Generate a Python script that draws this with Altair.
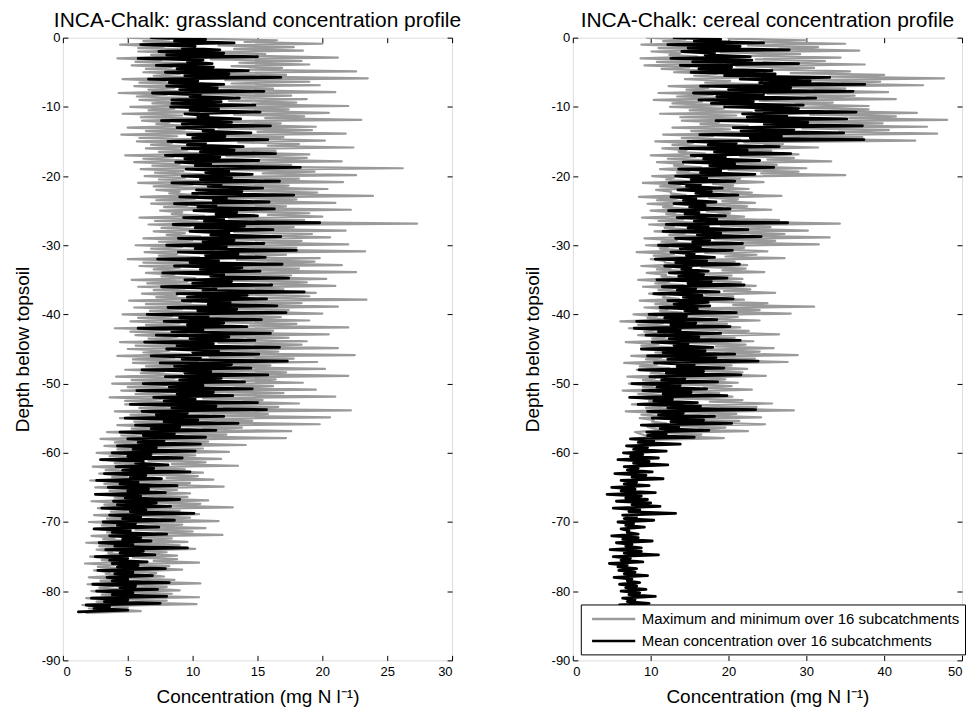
import altair as alt
import pandas as pd

STEP = 0.25  # depth sampling of the profiles
GRAY = "#9a9a9a"
FONT = "Liberation Sans"
LAB_MM = "Maximum and minimum over 16 subcatchments"
LAB_MEAN = "Mean concentration over 16 subcatchments"

# ---------------- grassland ----------------
grass_mean = [
    6.8, 13.2, 6.0, 12.1, 7.4, 15.0, 5.8, 11.5, 7.2, 14.3, 7.9, 16.8, 6.6, 12.4, 8.0, 15.5, 6.9, 13.6, 8.4, 14.8,
    8.3, 15.2, 9.4, 13.7, 7.6, 16.0, 8.8, 14.5, 9.6, 15.8, 8.1, 13.9, 9.2, 16.4, 7.9, 15.1, 8.7, 18.3, 9.5, 14.6,
    9.2, 16.7, 8.4, 15.4, 10.3, 17.8, 9.0, 15.9, 8.6, 16.3, 10.1, 15.0, 9.3, 19.8, 8.5, 16.2, 9.8, 16.8, 8.9, 15.5,
    8.0, 18.0, 8.9, 15.6, 7.3, 16.9, 8.6, 15.2, 7.7, 17.4, 9.4, 16.1, 7.6, 18.6, 8.8, 15.7, 9.2, 16.5, 8.1, 17.2,
    6.5, 15.3, 7.8, 14.2, 5.8, 16.0, 7.2, 14.8, 6.3, 16.7, 8.0, 15.1, 6.8, 17.3, 7.5, 14.5, 6.1, 15.8, 7.9, 14.0,
    6.2, 14.6, 5.7, 13.1, 7.0, 15.0, 5.2, 15.7, 6.1, 12.4, 4.8, 13.5, 5.6, 11.8, 4.4, 11.0, 5.0, 10.6, 4.2, 10.2,
    3.8, 9.2, 2.9, 8.1, 4.1, 9.8, 3.2, 7.6, 2.6, 8.8, 3.5, 7.9, 2.5, 9.0, 3.9, 8.3, 3.0, 10.1, 3.6, 8.6,
    3.1, 7.4, 2.4, 8.0, 3.6, 6.8, 2.8, 9.6, 3.3, 7.1, 2.5, 6.5, 3.8, 7.9, 2.7, 6.9, 3.4, 8.2, 2.3, 7.3,
    2.6, 8.0, 2.2, 7.5, 1.8, 5.0, 1.2,
]
grass_mean_ihi = [
    11.0, 10.2, 12.4, 10.8, 11.6, 12.8, 10.4, 11.9, 10.6, 12.2,
    12.0, 11.2, 13.0, 11.6, 12.5, 11.0, 13.2, 12.1, 11.4, 12.8,
    13.0, 12.2, 13.8, 12.6, 11.8, 13.4, 12.4, 14.0, 12.8, 13.2,
    12.6, 13.5, 12.0, 13.8, 12.4, 13.0, 11.8, 14.2, 12.9, 13.4,
    11.2, 12.4, 10.8, 12.8, 11.6, 12.0, 10.6, 13.0, 11.4, 12.2,
    10.8, 11.6, 10.2, 11.8, 9.6, 10.4, 9.0, 8.6, 7.8, 7.2,
    6.8, 6.2, 7.0, 6.4, 5.8, 6.6, 6.0, 7.2, 6.4, 6.0,
    5.6, 5.2, 6.0, 5.4, 6.2, 5.0, 5.8, 5.4, 5.0, 5.6,
    5.4, 5.0, 3.6,
]
grass_mean_ilo = [
    8.6, 9.2, 8.0, 9.6, 8.8, 9.4, 8.2, 9.0, 9.8, 8.4,
    9.8, 10.4, 9.2, 10.8, 10.0, 9.6, 10.6, 9.4, 10.2, 11.0,
    10.6, 11.2, 10.0, 11.6, 10.4, 11.8, 10.9, 10.2, 11.4, 10.8,
    10.2, 11.0, 9.8, 10.6, 11.4, 10.0, 10.8, 9.6, 11.2, 10.4,
    9.0, 9.6, 8.4, 9.8, 8.8, 10.0, 9.2, 8.6, 9.4, 9.0,
    8.2, 8.8, 7.8, 8.4, 7.2, 7.8, 6.8, 6.2, 5.8, 5.4,
    5.0, 5.6, 4.6, 5.2, 4.4, 5.0, 4.8, 4.2, 5.2, 4.6,
    4.2, 3.8, 4.6, 4.0, 4.4, 3.6, 4.2, 4.0, 3.8, 4.4,
    3.8, 3.2, 2.4,
]
grass_max_lo = [
    10.5, 12.0, 9.8, 11.4, 13.0, 10.2, 12.5, 11.0, 9.5, 12.8,
    11.5, 13.2, 10.4, 12.0, 11.8, 13.5, 10.9, 12.6, 11.2, 13.0,
    12.4, 11.0, 13.6, 12.2, 11.5, 13.0, 12.8, 11.4, 13.2, 12.0,
    11.8, 12.5, 13.4, 11.0, 12.2, 13.1, 11.6, 12.9, 11.3, 12.4,
    10.2, 11.5, 9.6, 11.0, 12.0, 10.4, 11.3, 9.9, 10.8, 11.6,
    10.0, 9.4, 10.8, 9.0, 8.6, 9.6, 8.2, 7.5, 7.0, 6.4,
    5.8, 6.6, 5.2, 6.0, 5.6, 6.4, 5.0, 6.2, 5.4, 5.8,
    5.0, 5.6, 4.6, 5.2, 4.8, 5.4, 4.4, 5.0, 4.6, 5.2,
    4.2, 3.8, 3.0, 1.8,
]
grass_max_ihi = [
    16.5, 17.8, 15.6, 18.4, 16.9, 17.2, 19.0, 16.2, 17.6, 18.0,
    17.4, 18.6, 16.8, 19.2, 17.0, 18.2, 16.4, 18.8, 17.6, 19.4,
    18.2, 17.4, 19.6, 18.0, 17.2, 19.0, 18.6, 17.8, 19.2, 18.4,
    18.0, 17.2, 19.4, 18.2, 17.6, 18.8, 17.0, 19.0, 18.4, 17.4,
    16.8, 18.0, 16.2, 17.4, 18.4, 16.6, 17.8, 16.0, 17.2, 16.4,
    16.2, 17.0, 15.4, 16.6, 15.8, 14.6, 13.8, 12.6, 11.2, 10.8,
    10.2, 11.0, 9.4, 10.4, 9.8, 8.8, 9.6, 10.6, 9.0, 9.8,
    9.2, 10.0, 8.4, 9.0, 8.0, 8.8, 8.2, 7.2, 8.6, 8.0,
    8.4, 8.0, 5.0,
]
grass_max_ilo = [
    14.0, 13.2, 15.0, 13.6, 14.4, 15.2, 13.0, 14.8, 13.4, 14.6,
    14.8, 15.6, 14.2, 15.0, 14.4, 15.8, 14.6, 15.2, 14.0, 15.4,
    15.6, 14.8, 16.0, 15.2, 14.6, 15.8, 15.0, 14.4, 16.2, 15.4,
    15.0, 14.2, 15.8, 14.6, 15.4, 16.0, 14.4, 15.2, 14.8, 15.6,
    13.6, 14.4, 13.0, 14.2, 14.8, 13.4, 14.0, 13.2, 14.6, 13.8,
    13.2, 12.6, 13.8, 12.4, 11.6, 12.2, 10.8, 9.8, 9.0, 8.4,
    7.8, 8.4, 7.2, 8.0, 7.6, 7.0, 7.4, 8.2, 7.0, 7.6,
    6.8, 7.2, 6.4, 7.0, 6.6, 7.0, 6.2, 6.6, 6.4, 6.8,
    6.0, 5.6, 4.0,
]
grass_max_hi = [
    20.0, 18.5, 21.2, 19.0, 22.6, 23.5, 19.8, 21.0, 18.8, 22.0,
    20.5, 23.0, 19.5, 21.8, 20.2, 22.4, 19.0, 21.5, 26.2, 22.6,
    21.6, 20.4, 23.9, 21.0, 22.2, 20.0, 27.3, 21.8, 20.6, 22.0,
    23.3, 19.8, 21.5, 22.6, 20.3, 21.0, 19.5, 23.4, 21.2, 20.0,
    19.0, 22.0, 20.5, 18.8, 21.2, 22.5, 19.6, 20.2, 22.0, 18.5,
    19.5, 21.0, 18.2, 22.2, 20.6, 19.8, 17.6, 17.2, 14.1, 12.8,
    12.2, 13.5, 10.8, 11.6, 12.4, 9.8, 11.2, 13.1, 10.5, 12.0,
    11.0, 12.3, 9.6, 10.2, 8.8, 10.5, 9.2, 7.8, 10.6, 9.0,
    10.5, 10.3, 6.0,
]
grass_min_lo = [
    5.0, 4.4, 5.8, 4.2, 5.3, 6.2, 4.6, 5.5, 4.3, 5.9,
    5.2, 4.6, 6.1, 5.0, 4.5, 5.7, 6.4, 4.8, 5.5, 6.0,
    6.3, 5.8, 7.2, 6.0, 6.8, 7.5, 5.9, 6.6, 7.0, 6.2,
    5.6, 6.3, 5.0, 5.9, 6.4, 5.3, 5.8, 6.1, 5.1, 5.5,
    4.6, 5.2, 4.0, 5.6, 4.4, 5.0, 4.2, 5.4, 4.8, 4.1,
    3.8, 4.5, 3.6, 4.8, 4.0, 4.4, 4.2, 3.4, 2.9, 3.2,
    2.6, 3.0, 2.3, 2.8, 2.1, 2.5, 3.1, 2.2, 2.7, 2.4,
    2.0, 2.5, 2.2, 1.8, 2.6, 2.1, 1.7, 2.4, 2.0, 1.9,
    2.2, 1.8, 1.5, 1.2,
]
grass_min_ihi = [
    8.2, 7.8, 8.8, 7.6, 8.4, 9.0, 7.9, 8.6, 8.0, 8.8,
    8.6, 9.2, 8.2, 9.4, 8.8, 8.4, 9.6, 8.5, 9.0, 9.3,
    9.4, 10.0, 9.0, 10.2, 9.6, 9.2, 10.4, 9.8, 9.4, 10.0,
    9.2, 8.8, 9.8, 9.0, 8.6, 9.6, 9.4, 8.8, 9.9, 9.2,
    8.4, 9.0, 8.0, 8.8, 9.2, 8.2, 8.6, 9.0, 7.8, 8.6,
    8.0, 8.6, 7.6, 8.4, 7.4, 7.8, 6.8, 6.2, 5.8, 5.4,
    4.8, 5.4, 4.4, 5.0, 4.6, 5.4, 4.9, 4.4, 5.2, 4.6,
    4.2, 4.6, 4.0, 4.4, 3.8, 4.2, 4.0, 3.6, 4.4, 3.9,
    4.0, 3.6, 2.6,
]
grass_min_ilo = [
    6.2, 5.8, 6.8, 5.6, 6.4, 7.0, 5.9, 6.6, 5.7, 6.9,
    6.6, 6.0, 7.2, 6.4, 5.9, 6.8, 7.4, 6.2, 6.9, 7.1,
    7.4, 7.0, 8.2, 7.2, 7.8, 8.4, 7.1, 7.6, 8.0, 7.4,
    6.8, 7.4, 6.2, 7.0, 7.6, 6.5, 7.0, 7.2, 6.4, 6.7,
    5.8, 6.4, 5.2, 6.6, 5.6, 6.2, 5.4, 6.4, 6.0, 5.3,
    5.0, 5.6, 4.8, 5.9, 5.2, 5.5, 5.3, 4.5, 4.0, 4.2,
    3.6, 4.0, 3.3, 3.8, 3.2, 3.6, 4.0, 3.2, 3.7, 3.4,
    3.0, 3.4, 3.1, 2.8, 3.5, 3.0, 2.7, 3.3, 2.9, 2.8,
    3.0, 2.6, 2.0,
]
grass_min_hi = [
    9.5, 10.8, 8.6, 11.2, 9.8, 10.2, 12.0, 9.0, 10.6, 11.4,
    10.5, 11.8, 9.6, 11.0, 12.4, 10.2, 11.5, 9.9, 12.0, 10.8,
    11.2, 12.6, 10.4, 11.8, 13.0, 10.9, 12.2, 11.5, 10.6, 12.8,
    11.6, 10.5, 12.4, 11.0, 10.2, 12.0, 11.3, 10.8, 12.6, 11.1,
    10.0, 11.2, 9.5, 10.6, 11.8, 9.8, 10.4, 11.0, 9.2, 10.5,
    9.6, 10.8, 9.0, 10.2, 8.8, 9.5, 8.2, 7.6, 7.0, 6.5,
    6.0, 6.8, 5.5, 6.4, 5.8, 7.0, 6.2, 5.6, 6.5, 5.9,
    5.4, 6.0, 5.0, 5.6, 4.8, 5.5, 5.2, 4.6, 5.8, 5.0,
    5.5, 5.0, 3.5,
]

# ---------------- cereal ----------------
cereal_mean = [
    13.0, 24.5, 12.2, 27.8, 14.0, 22.8, 12.6, 29.0, 13.8, 25.6, 15.2, 33.0, 21.5, 37.5, 16.4, 36.0, 15.5, 31.2, 16.2, 29.6,
    19.5, 36.4, 21.8, 35.2, 18.4, 37.2, 20.6, 34.8, 16.3, 37.4, 14.8, 26.5, 13.8, 28.0, 15.2, 24.0, 14.2, 25.8, 13.6, 23.4,
    13.2, 20.8, 12.4, 19.2, 13.5, 21.2, 12.6, 18.4, 13.0, 20.2, 12.3, 19.6, 13.4, 27.6, 12.0, 22.5, 11.6, 24.2, 13.2, 21.8,
    11.0, 20.5, 12.6, 18.2, 10.6, 21.4, 11.8, 17.4, 12.4, 19.8, 10.8, 22.0, 11.5, 18.8, 10.4, 20.6, 12.2, 17.6, 11.2, 21.0,
    9.8, 18.5, 8.2, 20.2, 7.9, 19.0, 9.4, 21.5, 10.2, 18.0, 8.8, 20.8, 9.6, 23.8, 10.5, 19.4, 8.5, 21.6, 9.9, 18.6,
    7.6, 17.2, 9.0, 19.8, 7.3, 16.0, 8.4, 23.5, 9.6, 18.2, 10.2, 20.4, 8.8, 17.5, 9.5, 15.6, 7.4, 13.8, 6.9, 12.0,
    6.5, 11.0, 5.8, 12.2, 6.6, 10.2, 5.4, 11.6, 6.2, 9.8, 5.0, 10.6, 4.4, 9.6, 5.6, 11.2, 5.2, 13.2, 6.4, 10.4,
    5.8, 9.2, 6.2, 8.4, 5.0, 10.2, 5.6, 8.8, 4.8, 11.0, 5.2, 9.0, 4.7, 8.2, 5.9, 9.6, 5.3, 8.6, 6.0, 9.4,
    6.2, 10.6, 6.4, 9.8, 6.0, 10.2, 6.5,
]
cereal_mean_ihi = [
    19.0, 21.5, 18.2, 23.0, 20.4, 26.0, 30.5, 28.0, 24.5, 23.2,
    29.0, 27.5, 30.2, 28.4, 26.8, 21.0, 22.4, 19.6, 20.8, 19.0,
    17.2, 16.4, 17.8, 15.8, 17.0, 16.2, 18.5, 17.4, 19.0, 17.6,
    16.4, 15.6, 17.2, 15.2, 16.8, 17.8, 15.8, 16.6, 17.4, 16.0,
    14.6, 15.8, 13.8, 16.2, 14.8, 17.0, 18.4, 15.6, 16.8, 14.4,
    13.8, 15.2, 12.8, 16.4, 14.2, 16.8, 13.6, 12.0, 10.4, 9.6,
    9.0, 9.8, 8.4, 9.4, 8.2, 8.0, 8.8, 10.0, 8.6, 8.2,
    7.8, 7.2, 8.4, 7.6, 8.8, 7.4, 7.0, 8.0, 7.6, 8.2,
    8.6, 8.0, 8.4,
]
cereal_mean_ilo = [
    15.6, 14.8, 17.0, 15.4, 16.2, 19.5, 24.0, 20.0, 18.5, 17.8,
    23.5, 22.4, 24.6, 21.6, 22.8, 17.4, 18.2, 16.8, 17.6, 16.4,
    15.2, 14.6, 15.8, 14.2, 15.0, 14.4, 15.6, 14.8, 16.0, 15.4,
    13.8, 14.6, 13.2, 14.0, 13.6, 14.8, 13.4, 14.2, 13.0, 14.4,
    11.8, 12.6, 11.0, 12.4, 13.0, 11.6, 12.2, 13.4, 12.0, 11.4,
    10.8, 11.6, 10.4, 12.2, 11.0, 12.6, 11.2, 9.6, 8.4, 7.8,
    7.4, 7.8, 7.0, 7.6, 6.6, 6.2, 6.8, 7.6, 7.2, 6.6,
    6.8, 7.0, 6.4, 6.8, 6.6, 6.2, 5.8, 6.6, 7.0, 6.8,
    7.2, 7.0, 7.4,
]
cereal_max_lo = [
    20.0, 22.5, 19.0, 23.5, 21.0, 28.0, 30.0, 26.5, 25.0, 24.0,
    28.0, 30.5, 27.0, 29.5, 26.0, 22.0, 20.5, 21.5, 19.5, 20.0,
    17.0, 18.0, 16.5, 17.5, 16.0, 17.2, 18.0, 19.0, 17.5, 18.2,
    16.0, 17.0, 15.5, 16.5, 15.0, 16.2, 15.8, 17.0, 16.0, 15.5,
    14.5, 15.5, 13.8, 15.0, 14.2, 15.8, 16.0, 14.5, 15.2, 14.0,
    13.5, 14.5, 13.0, 15.0, 14.0, 13.2, 12.5, 11.5, 10.0,
]
cereal_max_ihi = [
    30.0, 31.5, 29.2, 32.4, 31.0, 40.0, 39.5, 35.0, 36.2, 33.4,
    38.0, 41.5, 39.8, 40.6, 37.2, 27.0, 25.5, 28.4, 26.2, 29.0,
    21.5, 20.6, 23.0, 21.2, 22.4, 20.2, 26.5, 25.4, 27.2, 26.0,
    22.0, 23.6, 20.8, 22.2, 20.4, 21.6, 22.8, 20.6, 25.0, 24.0,
    21.2, 19.8, 22.6, 20.8, 22.2, 24.0, 23.4, 20.4, 21.8, 19.6,
    20.4, 18.8, 21.8, 23.6, 21.0, 21.4, 19.6, 16.5,
]
cereal_max_ilo = [
    24.0, 26.5, 23.0, 27.2, 25.5, 33.0, 34.5, 31.0, 30.0, 28.6,
    33.0, 35.5, 32.4, 34.2, 31.0, 24.6, 23.4, 25.0, 22.8, 24.2,
    19.6, 18.8, 20.4, 19.2, 19.8, 18.6, 22.0, 21.2, 22.8, 21.6,
    18.8, 19.6, 18.0, 19.2, 17.8, 18.6, 19.4, 18.2, 20.6, 19.8,
    17.6, 16.8, 18.8, 17.4, 18.4, 19.6, 19.2, 17.2, 18.0, 16.6,
    16.8, 15.8, 17.6, 19.0, 17.4, 17.8, 16.2, 13.8,
]
cereal_max_hi = [
    35.0, 36.8, 34.4, 37.5, 35.6, 47.7, 45.0, 40.5, 41.5, 38.0,
    44.2, 48.1, 45.5, 46.8, 44.0, 31.5, 29.0, 33.2, 30.0, 35.0,
    24.5, 22.6, 26.8, 23.4, 25.5, 22.0, 34.3, 30.2, 33.0, 31.6,
    25.0, 27.2, 22.4, 24.6, 21.8, 23.5, 26.0, 22.0, 31.0, 28.0,
    24.0, 21.5, 26.5, 23.2, 25.8, 28.9, 27.6, 22.4, 24.8, 21.2,
    23.0, 20.5, 25.6, 28.4, 24.2, 24.7, 22.5, 19.4,
]
cereal_min_lo = [
    9.5, 8.8, 10.1, 8.7, 9.2, 13.0, 14.4, 12.3, 11.0, 10.4,
    12.5, 11.2, 14.0, 12.8, 11.6, 10.6, 11.5, 10.0, 10.8, 11.2,
    10.2, 9.0, 10.7, 8.5, 9.6, 10.0, 8.9, 9.8, 10.5, 9.2,
    9.4, 8.2, 10.0, 8.8, 9.5, 8.4, 9.0, 9.8, 8.6, 9.2,
    7.8, 6.1, 7.2, 8.4, 6.8, 8.9, 7.5, 6.6, 8.2, 7.0,
    7.2, 6.4, 8.1, 7.6, 6.8, 8.6, 9.4, 8.0, 7.6,
]
cereal_min_ihi = [
    14.5, 15.6, 13.8, 16.2, 15.0, 18.5, 20.2, 17.4, 18.0, 16.6,
    19.4, 21.0, 18.8, 20.2, 18.0, 15.4, 14.6, 15.8, 14.2, 15.0,
    13.0, 13.8, 12.6, 13.4, 12.8, 13.2, 14.2, 13.0, 14.4, 13.4,
    12.2, 13.0, 11.8, 12.6, 12.0, 12.4, 13.0, 11.8, 12.8, 12.2,
    10.8, 11.6, 10.4, 11.8, 11.0, 12.0, 11.4, 10.8, 11.6, 10.6,
    10.4, 11.2, 10.0, 12.0, 10.8, 10.4, 9.6, 8.6,
]
cereal_min_ilo = [
    11.6, 11.0, 12.4, 10.8, 11.4, 15.6, 17.0, 14.6, 13.4, 12.8,
    15.0, 13.8, 16.4, 15.2, 14.0, 12.8, 13.6, 12.2, 13.0, 13.4,
    12.0, 11.2, 12.6, 10.8, 11.6, 12.0, 11.0, 11.8, 12.4, 11.4,
    11.2, 10.4, 11.8, 10.8, 11.4, 10.6, 11.0, 11.6, 10.6, 11.2,
    9.6, 8.4, 9.2, 10.2, 8.8, 10.6, 9.4, 8.6, 10.0, 9.0,
    9.0, 8.4, 9.8, 9.4, 8.8, 10.2, 10.6, 9.4,
]
cereal_min_hi = [
    17.0, 18.5, 16.0, 19.0, 17.5, 22.0, 24.0, 20.0, 21.0, 19.5,
    23.0, 25.0, 22.5, 24.0, 21.5, 18.0, 17.0, 18.5, 16.5, 17.5,
    15.0, 16.0, 14.5, 15.5, 14.8, 15.2, 16.5, 15.0, 16.8, 15.5,
    14.0, 15.0, 13.5, 14.5, 13.8, 14.2, 15.0, 13.6, 14.8, 14.0,
    12.5, 13.5, 12.0, 13.8, 12.8, 14.0, 13.2, 12.4, 13.5, 12.2,
    12.0, 13.0, 11.5, 14.0, 12.6, 12.0, 11.0, 9.5,
]


def weave(lo, ihi, ilo, hi):
    """Order the typed readings along the profile: wide left, short right,
    short left, wide right, for each unit of depth."""
    out = []
    for k, v in enumerate(lo):
        out.append(v)
        if k < len(hi):
            out += [ihi[k], ilo[k], hi[k]]
    return out


def frame(values, line, series, shift=0.0):
    n = len(values)
    return pd.DataFrame({
        "depth": [-(STEP * i + shift) for i in range(n)],
        "conc": values,
        "idx": list(range(n)),
        "line": line,
        "series": series,
    })


def mean_frame(mean, ihi, ilo):
    return frame(weave(mean[0::2], ihi, ilo, mean[1::2]), "mean", LAB_MEAN)


def gray_frame(mx, mn):
    return pd.concat([
        frame(weave(*mx), "max", LAB_MM, shift=0.125),
        frame(weave(*mn), "min", LAB_MM),
    ], ignore_index=True)


color_scale = alt.Scale(domain=[LAB_MM, LAB_MEAN], range=[GRAY, "black"])

AX = dict(offset=-5, tickSize=5, domain=False, grid=False, ticks=True,
          tickColor="black", tickWidth=1, labelColor="black", labelFont=FONT,
          labelFontSize=13, titleFont=FONT, titleFontSize=19,
          titleFontWeight="normal", titleColor="black")


def panel(title, xmax, xstep, gray_df, mean_df, legend):
    xs = alt.Scale(domain=[0, xmax], nice=False, zero=False)
    ys = alt.Scale(domain=[-90, 0], nice=False, zero=False)
    xticks = list(range(0, xmax + 1, xstep))
    yticks = list(range(-90, 1, 10))
    gray = alt.Chart(gray_df).mark_line(
        strokeWidth=2.2, strokeJoin="round", strokeCap="round", clip=True
    ).encode(
        x=alt.X("conc:Q", scale=xs, title="Concentration (mg N l\u207b\u00b9)",
                axis=alt.Axis(orient="bottom", values=xticks, labelPadding=5,
                              titlePadding=9, labelExpr="datum.value + ''", **AX)),
        y=alt.Y("depth:Q", scale=ys, title="Depth below topsoil",
                axis=alt.Axis(orient="left", values=yticks, labelPadding=3,
                              titlePadding=9, labelExpr="datum.value + ''", **AX)),
        detail="line:N",
        order="idx:Q",
        color=alt.Color("series:N", scale=color_scale, legend=legend),
    )
    black = alt.Chart(mean_df).mark_line(
        strokeWidth=2.8, strokeJoin="round", strokeCap="round", clip=True
    ).encode(
        x=alt.X("conc:Q", scale=xs, title=None,
                axis=alt.Axis(orient="top", values=xticks, labels=False, **AX)),
        y=alt.Y("depth:Q", scale=ys, title=None,
                axis=alt.Axis(orient="right", values=yticks, labels=False, **AX)),
        detail="line:N",
        order="idx:Q",
        color=alt.Color("series:N", scale=color_scale, legend=legend),
    )
    return alt.layer(gray, black).resolve_axis(
        x="independent", y="independent"
    ).properties(
        width=390, height=624,
        title=alt.Title(title, font=FONT, fontSize=21, fontWeight="normal",
                        color="black", offset=1, frame="group", anchor="middle"),
    )


legend_right = alt.Legend(
    orient="none", legendX=8, legendY=568, title=None, fillColor="white",
    strokeColor="black", padding=5, symbolType="M-0.4,0H5", symbolSize=256,
    symbolStrokeWidth=2.5, labelFontSize=15, labelFont=FONT,
    labelColor="black", rowPadding=4, labelOffset=37, labelLimit=500,
)

left = panel("INCA-Chalk: grassland concentration profile", 30, 5,
             gray_frame((grass_max_lo, grass_max_ihi, grass_max_ilo, grass_max_hi),
                        (grass_min_lo, grass_min_ihi, grass_min_ilo, grass_min_hi)),
             mean_frame(grass_mean, grass_mean_ihi, grass_mean_ilo), None)
right = panel("INCA-Chalk: cereal concentration profile", 50, 10,
              gray_frame((cereal_max_lo, cereal_max_ihi, cereal_max_ilo, cereal_max_hi),
                         (cereal_min_lo, cereal_min_ihi, cereal_min_ilo, cereal_min_hi)),
              mean_frame(cereal_mean, cereal_mean_ihi, cereal_mean_ilo), legend_right)

chart = alt.hconcat(left, right, spacing=60).resolve_scale(
    color="independent"
).resolve_legend(color="independent").properties(
    padding={"left": 4, "top": 0, "right": 0, "bottom": 0}
).configure_view(stroke="black", strokeWidth=1).configure(font=FONT)

chart.save("out.html", embed_options={"renderer": "svg", "actions": False})
